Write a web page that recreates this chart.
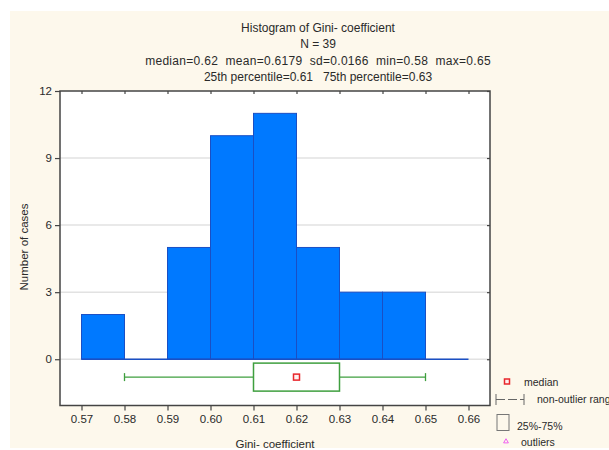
<!DOCTYPE html>
<html>
<head>
<meta charset="utf-8">
<script src="https://cdn.jsdelivr.net/npm/d3@7"></script>
<style>
	body { margin: 0; background: #ffffff; }
	svg text { font-family: 'Liberation Sans', Arial, sans-serif; fill: #2a2a2a; white-space: pre; }
</style>
</head>
<body>
<div id="chart"></div>
<script>
// Histogram data (bin start -> count)
const binStarts = [0.57, 0.58, 0.59, 0.60, 0.61, 0.62, 0.63, 0.64, 0.65];
const binCounts = [2, 0, 5, 10, 11, 5, 3, 3, 0];
const binWidth = 0.01;

// Box plot summary
const boxStats = { min: 0.58, q1: 0.61, median: 0.62, q3: 0.63, max: 0.65 };

const xTicks = [0.57, 0.58, 0.59, 0.60, 0.61, 0.62, 0.63, 0.64, 0.65, 0.66];
const yTicks = [0, 3, 6, 9, 12];

const titleLines = [
	'Histogram of Gini- coefficient',
	'N = 39',
	'median=0.62  mean=0.6179  sd=0.0166  min=0.58  max=0.65',
	'25th percentile=0.61   75th percentile=0.63'
];
const legendItems = ['median', 'non-outlier range', '25%-75%', 'outliers'];

const W = 609, H = 450;
const margin = { top: 91, right: 119, bottom: 44.5, left: 60 };
const width = W - margin.left - margin.right;
const height = H - margin.top - margin.bottom;

const svg = d3
	.select('#chart')
	.append('svg')
	.attr('width', W)
	.attr('height', H);

// Cream page background
svg
	.append('rect')
	.attr('x', 10)
	.attr('y', 11)
	.attr('width', W - 10)
	.attr('height', 437)
	.attr('fill', '#fdf8ec');

// Titles
svg
	.append('g')
	.selectAll('text')
	.data(titleLines)
	.enter()
	.append('text')
	.attr('x', 318)
	.attr('y', (d, i) => [32, 48, 64.5, 80.5][i])
	.attr('text-anchor', 'middle')
	.attr('xml:space', 'preserve')
	.style('font-size', '12px')
	.style('letter-spacing', (d, i) => (i === 2 ? '0.3px' : '0px'))
	.text(d => d);

const chart = svg
	.append('g')
	.attr('transform', 'translate(' + margin.left + ',' + margin.top + ')');

// Scales
const x = d3
	.scaleLinear()
	.domain([0.565, 0.665])
	.range([0, width]);
const y = d3
	.scaleLinear()
	.domain([-2.07, 12])
	.range([height, 0]);

// Plot background
chart
	.append('rect')
	.attr('width', width)
	.attr('height', height)
	.attr('fill', '#ffffff');

// Grid lines
chart
	.append('g')
	.selectAll('line')
	.data(yTicks.filter(d => d < 12))
	.enter()
	.append('line')
	.attr('x1', 0)
	.attr('x2', width)
	.attr('y1', d => y(d))
	.attr('y2', d => y(d))
	.attr('stroke', '#e2e2e2')
	.attr('stroke-width', 1.5);

// Bars
chart
	.append('g')
	.selectAll('rect')
	.data(binStarts.map((s, i) => ({ start: s, count: binCounts[i] })))
	.enter()
	.append('rect')
	.attr('x', d => x(d.start))
	.attr('y', d => y(d.count))
	.attr('width', d => x(d.start + binWidth) - x(d.start))
	.attr('height', d => y(0) - y(d.count))
	.attr('fill', '#0079ff')
	.attr('stroke', '#1a4fc4')
	.attr('stroke-width', 1);

// Baseline under the bins
chart
	.append('line')
	.attr('x1', x(binStarts[0]))
	.attr('x2', x(binStarts[binStarts.length - 1] + binWidth))
	.attr('y1', y(0))
	.attr('y2', y(0))
	.attr('stroke', '#1a4fc4')
	.attr('stroke-width', 1.5);

// Box plot
const boxY = y(-0.8);
const boxH = 28;
const green = '#3f9f3f';
const boxG = chart.append('g').attr('class', 'boxplot');
boxG
	.append('line')
	.attr('x1', x(boxStats.min))
	.attr('x2', x(boxStats.q1))
	.attr('y1', boxY)
	.attr('y2', boxY)
	.attr('stroke', green)
	.attr('stroke-width', 1.3);
boxG
	.append('line')
	.attr('x1', x(boxStats.q3))
	.attr('x2', x(boxStats.max))
	.attr('y1', boxY)
	.attr('y2', boxY)
	.attr('stroke', green)
	.attr('stroke-width', 1.3);
boxG
	.selectAll('.cap')
	.data([boxStats.min, boxStats.max])
	.enter()
	.append('line')
	.attr('class', 'cap')
	.attr('x1', d => x(d))
	.attr('x2', d => x(d))
	.attr('y1', boxY - 4)
	.attr('y2', boxY + 4)
	.attr('stroke', green)
	.attr('stroke-width', 1.3);
boxG
	.append('rect')
	.attr('x', x(boxStats.q1))
	.attr('y', boxY - boxH / 2)
	.attr('width', x(boxStats.q3) - x(boxStats.q1))
	.attr('height', boxH)
	.attr('fill', '#ffffff')
	.attr('stroke', green)
	.attr('stroke-width', 1.5);
boxG
	.append('rect')
	.attr('x', x(boxStats.median) - 3)
	.attr('y', boxY - 3)
	.attr('width', 6)
	.attr('height', 6)
	.attr('fill', '#fff0f0')
	.attr('stroke', '#e8262b')
	.attr('stroke-width', 1.5);

// Axes
const xAxis = d3
	.axisBottom(x)
	.tickValues(xTicks)
	.tickSize(5)
	.tickFormat(d3.format('.2f'));
const yAxis = d3
	.axisLeft(y)
	.tickValues(yTicks)
	.tickSize(5);

const aX = chart
	.append('g')
	.attr('transform', 'translate(0,' + height + ')')
	.call(xAxis);
const aY = chart.append('g').call(yAxis);
[aX, aY].forEach(a => {
	a.select('.domain').remove();
	a.selectAll('line').attr('stroke', '#444').attr('stroke-width', 1.2);
	a.selectAll('text').style('font-size', '11.5px').attr('fill', '#2a2a2a');
});
aX.selectAll('text').attr('dy', '1.05em').attr('y', 5);
aY.selectAll('text').attr('x', -8);

// Inner ticks on top and right
chart
	.append('g')
	.call(
		d3
			.axisTop(x)
			.tickValues(xTicks)
			.tickSize(-3)
			.tickFormat('')
	)
	.call(g => g.select('.domain').remove())
	.selectAll('line')
	.attr('stroke', '#444')
	.attr('stroke-width', 1.2);
chart
	.append('g')
	.attr('transform', 'translate(' + width + ',0)')
	.call(
		d3
			.axisRight(y)
			.tickValues(yTicks)
			.tickSize(-3)
			.tickFormat('')
	)
	.call(g => g.select('.domain').remove())
	.selectAll('line')
	.attr('stroke', '#444')
	.attr('stroke-width', 1.2);

// Frame
chart
	.append('rect')
	.attr('width', width)
	.attr('height', height)
	.attr('fill', 'none')
	.attr('stroke', '#444')
	.attr('stroke-width', 1.5);

// Axis titles
svg
	.append('text')
	.attr('x', margin.left + width / 2)
	.attr('y', 448)
	.attr('text-anchor', 'middle')
	.style('font-size', '11.5px')
	.text('Gini- coefficient');
svg
	.append('text')
	.attr('transform', 'translate(28,' + 247 + ') rotate(-90)')
	.attr('text-anchor', 'middle')
	.style('font-size', '11.5px')
	.text('Number of cases');

// Legend
const legend = svg.append('g').attr('class', 'legend').style('font-size', '10.5px');
legend
	.append('rect')
	.attr('x', 504.5)
	.attr('y', 379)
	.attr('width', 5)
	.attr('height', 5)
	.attr('fill', '#fff0f0')
	.attr('stroke', '#e8262b')
	.attr('stroke-width', 1.5);
legend.append('text').attr('x', 524).attr('y', 386).text(legendItems[0]);

legend
	.append('line')
	.attr('x1', 496)
	.attr('x2', 524)
	.attr('y1', 399.5)
	.attr('y2', 399.5)
	.attr('stroke', '#666')
	.attr('stroke-width', 1)
	.attr('stroke-dasharray', '9,3');
legend
	.selectAll('.lcap')
	.data([496, 524])
	.enter()
	.append('line')
	.attr('class', 'lcap')
	.attr('x1', d => d)
	.attr('x2', d => d)
	.attr('y1', 394)
	.attr('y2', 405)
	.attr('stroke', '#666')
	.attr('stroke-width', 1);
legend.append('text').attr('x', 537).attr('y', 403).text(legendItems[1]);

legend
	.append('rect')
	.attr('x', 497)
	.attr('y', 414.5)
	.attr('width', 12)
	.attr('height', 16)
	.attr('fill', 'none')
	.attr('stroke', '#777')
	.attr('stroke-width', 1);
legend.append('text').attr('x', 517).attr('y', 430).text(legendItems[2]);

legend
	.append('path')
	.attr('d', d3.symbol().type(d3.symbolTriangle).size(10))
	.attr('transform', 'translate(506,441.5)')
	.attr('fill', 'none')
	.attr('stroke', '#f060f0')
	.attr('stroke-width', 1);
legend.append('text').attr('x', 521).attr('y', 446).text(legendItems[3]);
</script>
</body>
</html>
